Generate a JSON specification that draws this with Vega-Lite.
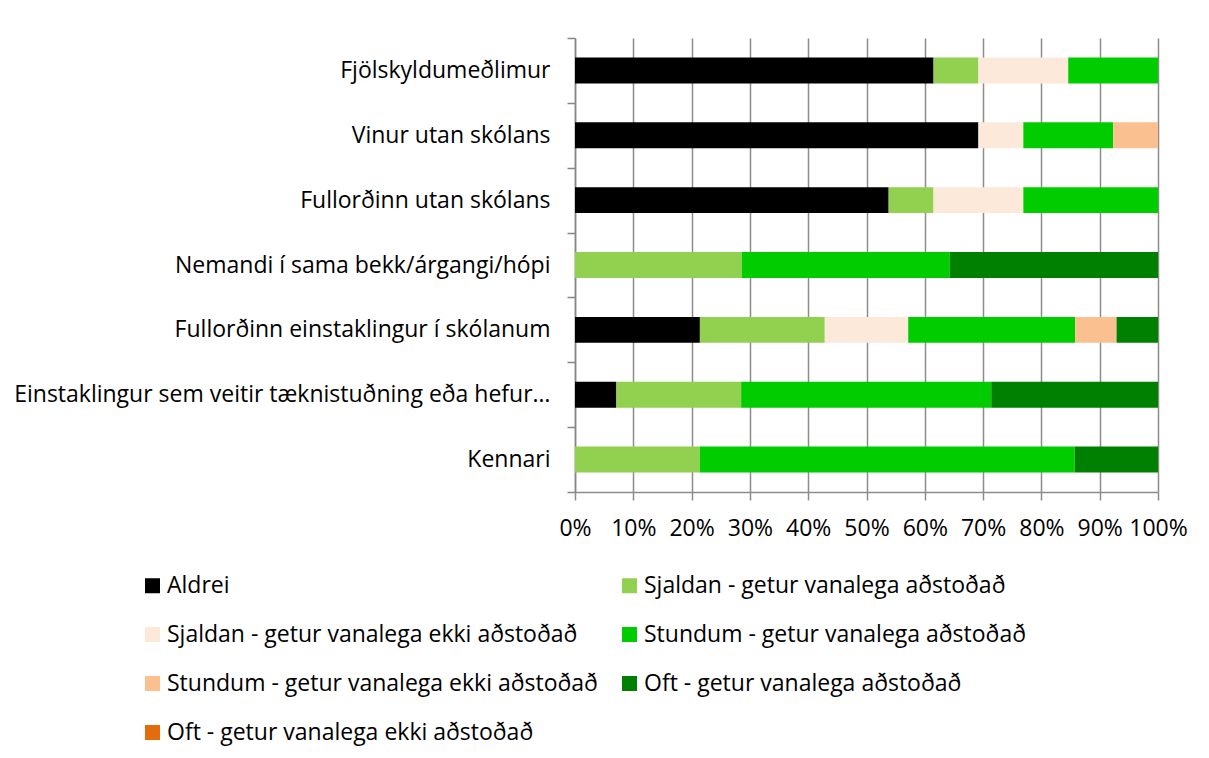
{
  "$schema": "https://vega.github.io/schema/vega-lite/v6.json",
  "width": 583,
  "height": 454,
  "autosize": {"type": "none"},
  "padding": {"left": 575, "top": 38, "right": 51, "bottom": 266},
  "background": "white",
  "data": {
    "values": [
      {"cat": "Fjölskyldumeðlimur", "s": "Aldrei", "pct": 61.5},
      {"cat": "Fjölskyldumeðlimur", "s": "Sjaldan - getur vanalega aðstoðað", "pct": 7.7},
      {"cat": "Fjölskyldumeðlimur", "s": "Sjaldan - getur vanalega ekki aðstoðað", "pct": 15.4},
      {"cat": "Fjölskyldumeðlimur", "s": "Stundum - getur vanalega aðstoðað", "pct": 15.4},
      {"cat": "Vinur utan skólans", "s": "Aldrei", "pct": 69.2},
      {"cat": "Vinur utan skólans", "s": "Sjaldan - getur vanalega ekki aðstoðað", "pct": 7.7},
      {"cat": "Vinur utan skólans", "s": "Stundum - getur vanalega aðstoðað", "pct": 15.4},
      {"cat": "Vinur utan skólans", "s": "Stundum - getur vanalega ekki aðstoðað", "pct": 7.7},
      {"cat": "Fullorðinn utan skólans", "s": "Aldrei", "pct": 53.8},
      {"cat": "Fullorðinn utan skólans", "s": "Sjaldan - getur vanalega aðstoðað", "pct": 7.7},
      {"cat": "Fullorðinn utan skólans", "s": "Sjaldan - getur vanalega ekki aðstoðað", "pct": 15.4},
      {"cat": "Fullorðinn utan skólans", "s": "Stundum - getur vanalega aðstoðað", "pct": 23.1},
      {"cat": "Nemandi í sama bekk/árgangi/hópi", "s": "Sjaldan - getur vanalega aðstoðað", "pct": 28.6},
      {"cat": "Nemandi í sama bekk/árgangi/hópi", "s": "Stundum - getur vanalega aðstoðað", "pct": 35.7},
      {"cat": "Nemandi í sama bekk/árgangi/hópi", "s": "Oft - getur vanalega aðstoðað", "pct": 35.7},
      {"cat": "Fullorðinn einstaklingur í skólanum", "s": "Aldrei", "pct": 21.4},
      {"cat": "Fullorðinn einstaklingur í skólanum", "s": "Sjaldan - getur vanalega aðstoðað", "pct": 21.4},
      {"cat": "Fullorðinn einstaklingur í skólanum", "s": "Sjaldan - getur vanalega ekki aðstoðað", "pct": 14.3},
      {"cat": "Fullorðinn einstaklingur í skólanum", "s": "Stundum - getur vanalega aðstoðað", "pct": 28.6},
      {"cat": "Fullorðinn einstaklingur í skólanum", "s": "Stundum - getur vanalega ekki aðstoðað", "pct": 7.1},
      {"cat": "Fullorðinn einstaklingur í skólanum", "s": "Oft - getur vanalega aðstoðað", "pct": 7.1},
      {"cat": "Einstaklingur sem veitir tæknistuðning eða hefur…", "s": "Aldrei", "pct": 7.1},
      {"cat": "Einstaklingur sem veitir tæknistuðning eða hefur…", "s": "Sjaldan - getur vanalega aðstoðað", "pct": 21.4},
      {"cat": "Einstaklingur sem veitir tæknistuðning eða hefur…", "s": "Stundum - getur vanalega aðstoðað", "pct": 42.9},
      {"cat": "Einstaklingur sem veitir tæknistuðning eða hefur…", "s": "Oft - getur vanalega aðstoðað", "pct": 28.6},
      {"cat": "Kennari", "s": "Sjaldan - getur vanalega aðstoðað", "pct": 21.4},
      {"cat": "Kennari", "s": "Stundum - getur vanalega aðstoðað", "pct": 64.3},
      {"cat": "Kennari", "s": "Oft - getur vanalega aðstoðað", "pct": 14.3}
    ]
  },
  "transform": [
    {"calculate": "indexof(['Aldrei','Sjaldan - getur vanalega aðstoðað','Sjaldan - getur vanalega ekki aðstoðað','Stundum - getur vanalega aðstoðað','Stundum - getur vanalega ekki aðstoðað','Oft - getur vanalega aðstoðað','Oft - getur vanalega ekki aðstoðað'], datum.s)", "as": "o"}
  ],
  "mark": {"type": "bar", "height": {"band": 0.4}},
  "encoding": {
    "y": {
      "field": "cat",
      "type": "nominal",
      "sort": null,
      "scale": {"paddingInner": 0, "paddingOuter": 0},
      "axis": {
        "title": null,
        "tickBand": "extent",
        "grid": false,
        "domainColor": "#868686",
        "domainWidth": 1.5,
        "tickColor": "#868686",
        "tickWidth": 1.5,
        "tickSize": 8,
        "labelFontSize": 23,
        "labelPadding": 17,
        "labelColor": "#000000",
        "labelLimit": 700
      }
    },
    "x": {
      "field": "pct",
      "type": "quantitative",
      "stack": "normalize",
      "scale": {"domain": [0, 1]},
      "axis": {
        "title": null,
        "values": [0, 0.1, 0.2, 0.3, 0.4, 0.5, 0.6, 0.7, 0.8, 0.9, 1],
        "format": ".0%",
        "grid": true,
        "gridColor": "#8c8c8c",
        "gridWidth": 1.5,
        "domainColor": "#8c8c8c",
        "domainWidth": 1.5,
        "tickColor": "#8c8c8c",
        "tickWidth": 1.5,
        "tickSize": 8,
        "labelFontSize": 23,
        "labelPadding": 17,
        "labelColor": "#000000",
        "labelFlush": false,
        "labelOverlap": false
      }
    },
    "order": {"field": "o", "type": "quantitative"},
    "color": {
      "field": "s",
      "type": "nominal",
      "scale": {
        "domain": [
          "Aldrei",
          "Sjaldan - getur vanalega ekki aðstoðað",
          "Stundum - getur vanalega ekki aðstoðað",
          "Oft - getur vanalega ekki aðstoðað",
          "Sjaldan - getur vanalega aðstoðað",
          "Stundum - getur vanalega aðstoðað",
          "Oft - getur vanalega aðstoðað"
        ],
        "range": ["#000000", "#FDE9D9", "#FAC090", "#E46C0A", "#92D050", "#00CC00", "#008000"]
      },
      "legend": {
        "orient": "none",
        "legendX": -434,
        "legendY": 536,
        "columns": 2,
        "title": null,
        "symbolType": "square",
        "symbolSize": 225,
        "symbolStrokeWidth": 0,
        "labelFontSize": 23,
        "labelColor": "#000000",
        "labelLimit": 600,
        "labelOffset": 3,
        "rowPadding": 25,
        "columnPadding": 20
      }
    }
  },
  "config": {"view": {"stroke": null}, "font": "Open Sans"}
}
